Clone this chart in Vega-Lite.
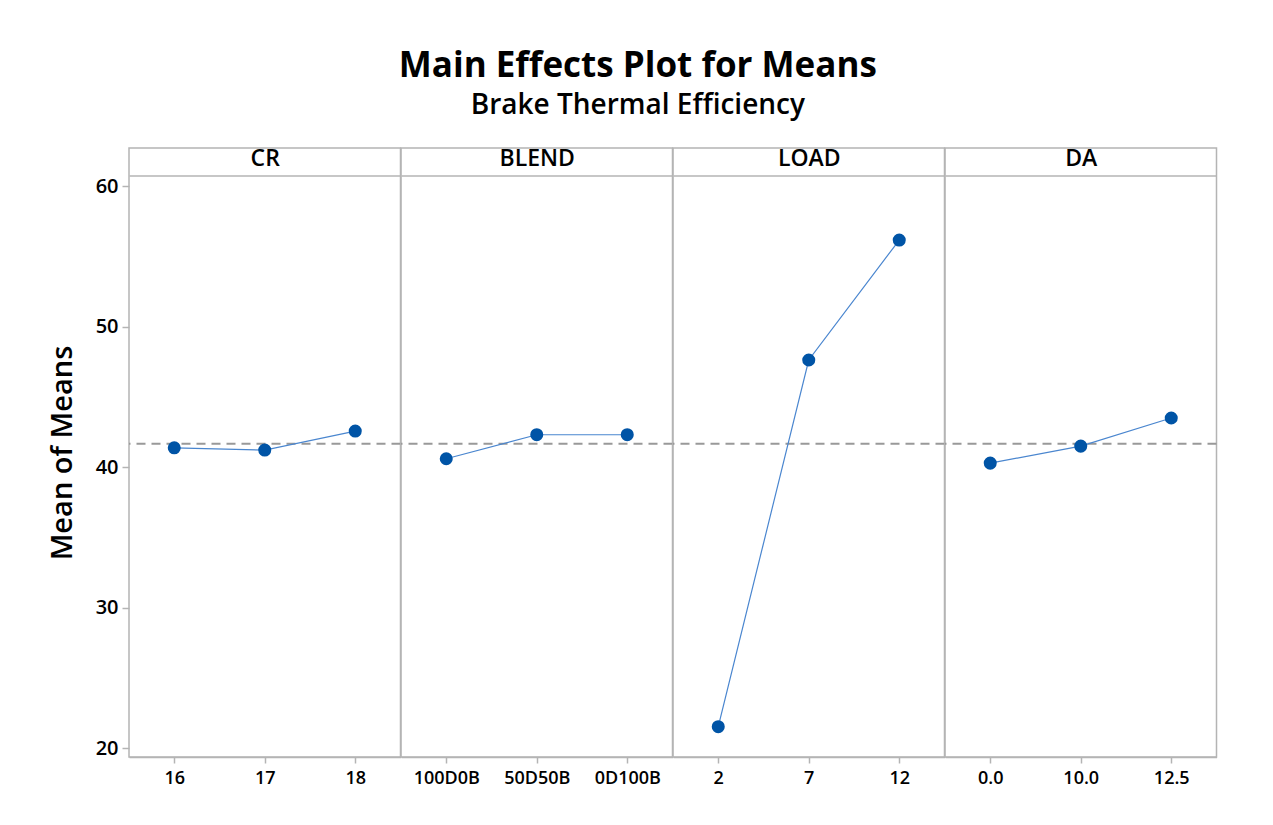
{
  "$schema": "https://vega.github.io/schema/vega-lite/v6.json",
  "background": "white",
  "padding": {"left": 47, "top": 48, "right": 5, "bottom": 5},
  "spacing": 0,
  "bounds": "flush",
  "title": {
    "text": "Main Effects Plot for Means",
    "subtitle": "Brake Thermal Efficiency",
    "font": "Open Sans",
    "subtitleFont": "Open Sans",
    "fontSize": 35,
    "fontWeight": "bold",
    "subtitleFontSize": 28,
    "subtitleFontWeight": 600,
    "color": "black",
    "subtitleColor": "black",
    "anchor": "middle",
    "dx": 5,
    "subtitlePadding": 8,
    "offset": 27
  },
  "datasets": {
    "means": [
      {"factor": "CR", "level": "16", "mean": 41.37},
      {"factor": "CR", "level": "17", "mean": 41.21},
      {"factor": "CR", "level": "18", "mean": 42.56},
      {"factor": "BLEND", "level": "100D0B", "mean": 40.59},
      {"factor": "BLEND", "level": "50D50B", "mean": 42.30},
      {"factor": "BLEND", "level": "0D100B", "mean": 42.30},
      {"factor": "LOAD", "level": "2", "mean": 21.52},
      {"factor": "LOAD", "level": "7", "mean": 47.62},
      {"factor": "LOAD", "level": "12", "mean": 56.16},
      {"factor": "DA", "level": "0.0", "mean": 40.28},
      {"factor": "DA", "level": "10.0", "mean": 41.49},
      {"factor": "DA", "level": "12.5", "mean": 43.49}
    ],
    "grand": [{"mean": 41.66}]
  },
  "hconcat": [
    {
      "width": 271.5, "height": 609,
      "encoding": {"y": {"field": "mean", "type": "quantitative", "scale": {"domain": [19.36, 62.71], "nice": false, "zero": false},
        "axis": {"values": [20, 30, 40, 50, 60], "grid": false, "domain": false, "tickSize": 7, "tickColor": "#b4b4b4", "tickWidth": 1.5, "labelFontSize": 20, "labelFontWeight": 600, "labelColor": "black", "labelPadding": 4, "title": "Mean of Means", "titleFontSize": 29, "titleFontWeight": 600, "titleColor": "black", "titlePadding": 18}}},
      "layer": [
        {"data": {"name": "grand"}, "mark": {"type": "rule", "color": "#999999", "strokeWidth": 2, "strokeDash": [9, 6]}},
        {"data": {"name": "means"}, "transform": [{"filter": "datum.factor === 'CR'"}],
          "mark": {"type": "line", "color": "#4a86cf", "strokeWidth": 1.2},
          "encoding": {"x": {"field": "level", "type": "ordinal", "sort": ["16", "17", "18"], "scale": {"type": "point", "padding": 0.5},
            "axis": {"orient": "top", "offset": -27.5, "labels": false, "ticks": false, "domainColor": "#b4b4b4", "domainWidth": 1.5, "title": "CR", "titlePadding": 5, "titleFontSize": 23, "titleFontWeight": 600, "titleColor": "black"}}}},
        {"data": {"name": "means"}, "transform": [{"filter": "datum.factor === 'CR'"}],
          "mark": {"type": "point", "filled": true, "size": 170, "color": "#0054a6", "opacity": 1},
          "encoding": {"x": {"field": "level", "type": "ordinal", "sort": ["16", "17", "18"], "scale": {"type": "point", "padding": 0.5},
            "axis": {"orient": "bottom", "labelAngle": 0, "domainColor": "#b4b4b4", "domainWidth": 1.5, "tickSize": 6, "tickColor": "#b4b4b4", "tickWidth": 1.5, "labelFontSize": 18, "labelFontWeight": 600, "labelColor": "black", "labelPadding": 6, "title": null}}}}
      ],
      "resolve": {"axis": {"x": "independent"}}
    },
    {
      "width": 271.5, "height": 609,
      "encoding": {"y": {"field": "mean", "type": "quantitative", "scale": {"domain": [19.36, 62.71], "nice": false, "zero": false}, "axis": null}},
      "layer": [
        {"data": {"name": "grand"}, "mark": {"type": "rule", "color": "#999999", "strokeWidth": 2, "strokeDash": [9, 6]}},
        {"data": {"name": "means"}, "transform": [{"filter": "datum.factor === 'BLEND'"}],
          "mark": {"type": "line", "color": "#4a86cf", "strokeWidth": 1.2},
          "encoding": {"x": {"field": "level", "type": "ordinal", "sort": ["100D0B", "50D50B", "0D100B"], "scale": {"type": "point", "padding": 0.5},
            "axis": {"orient": "top", "offset": -27.5, "labels": false, "ticks": false, "domainColor": "#b4b4b4", "domainWidth": 1.5, "title": "BLEND", "titlePadding": 5, "titleFontSize": 23, "titleFontWeight": 600, "titleColor": "black"}}}},
        {"data": {"name": "means"}, "transform": [{"filter": "datum.factor === 'BLEND'"}],
          "mark": {"type": "point", "filled": true, "size": 170, "color": "#0054a6", "opacity": 1},
          "encoding": {"x": {"field": "level", "type": "ordinal", "sort": ["100D0B", "50D50B", "0D100B"], "scale": {"type": "point", "padding": 0.5},
            "axis": {"orient": "bottom", "labelAngle": 0, "domainColor": "#b4b4b4", "domainWidth": 1.5, "tickSize": 6, "tickColor": "#b4b4b4", "tickWidth": 1.5, "labelFontSize": 18, "labelFontWeight": 600, "labelColor": "black", "labelPadding": 6, "title": null}}}}
      ],
      "resolve": {"axis": {"x": "independent"}}
    },
    {
      "width": 271.5, "height": 609,
      "encoding": {"y": {"field": "mean", "type": "quantitative", "scale": {"domain": [19.36, 62.71], "nice": false, "zero": false}, "axis": null}},
      "layer": [
        {"data": {"name": "grand"}, "mark": {"type": "rule", "color": "#999999", "strokeWidth": 2, "strokeDash": [9, 6]}},
        {"data": {"name": "means"}, "transform": [{"filter": "datum.factor === 'LOAD'"}],
          "mark": {"type": "line", "color": "#4a86cf", "strokeWidth": 1.2},
          "encoding": {"x": {"field": "level", "type": "ordinal", "sort": ["2", "7", "12"], "scale": {"type": "point", "padding": 0.5},
            "axis": {"orient": "top", "offset": -27.5, "labels": false, "ticks": false, "domainColor": "#b4b4b4", "domainWidth": 1.5, "title": "LOAD", "titlePadding": 5, "titleFontSize": 23, "titleFontWeight": 600, "titleColor": "black"}}}},
        {"data": {"name": "means"}, "transform": [{"filter": "datum.factor === 'LOAD'"}],
          "mark": {"type": "point", "filled": true, "size": 170, "color": "#0054a6", "opacity": 1},
          "encoding": {"x": {"field": "level", "type": "ordinal", "sort": ["2", "7", "12"], "scale": {"type": "point", "padding": 0.5},
            "axis": {"orient": "bottom", "labelAngle": 0, "domainColor": "#b4b4b4", "domainWidth": 1.5, "tickSize": 6, "tickColor": "#b4b4b4", "tickWidth": 1.5, "labelFontSize": 18, "labelFontWeight": 600, "labelColor": "black", "labelPadding": 6, "title": null}}}}
      ],
      "resolve": {"axis": {"x": "independent"}}
    },
    {
      "width": 271.5, "height": 609,
      "encoding": {"y": {"field": "mean", "type": "quantitative", "scale": {"domain": [19.36, 62.71], "nice": false, "zero": false}, "axis": null}},
      "layer": [
        {"data": {"name": "grand"}, "mark": {"type": "rule", "color": "#999999", "strokeWidth": 2, "strokeDash": [9, 6]}},
        {"data": {"name": "means"}, "transform": [{"filter": "datum.factor === 'DA'"}],
          "mark": {"type": "line", "color": "#4a86cf", "strokeWidth": 1.2},
          "encoding": {"x": {"field": "level", "type": "ordinal", "sort": ["0.0", "10.0", "12.5"], "scale": {"type": "point", "padding": 0.5},
            "axis": {"orient": "top", "offset": -27.5, "labels": false, "ticks": false, "domainColor": "#b4b4b4", "domainWidth": 1.5, "title": "DA", "titlePadding": 5, "titleFontSize": 23, "titleFontWeight": 600, "titleColor": "black"}}}},
        {"data": {"name": "means"}, "transform": [{"filter": "datum.factor === 'DA'"}],
          "mark": {"type": "point", "filled": true, "size": 170, "color": "#0054a6", "opacity": 1},
          "encoding": {"x": {"field": "level", "type": "ordinal", "sort": ["0.0", "10.0", "12.5"], "scale": {"type": "point", "padding": 0.5},
            "axis": {"orient": "bottom", "labelAngle": 0, "domainColor": "#b4b4b4", "domainWidth": 1.5, "tickSize": 6, "tickColor": "#b4b4b4", "tickWidth": 1.5, "labelFontSize": 18, "labelFontWeight": 600, "labelColor": "black", "labelPadding": 6, "title": null}}}}
      ],
      "resolve": {"axis": {"x": "independent"}}
    }
  ],
  "config": {
    "font": "Open Sans",
    "view": {"stroke": "#b4b4b4", "strokeWidth": 1.5},
    "concat": {"spacing": 0},
    "axis": {"labelFont": "Open Sans", "titleFont": "Open Sans"}
  }
}
